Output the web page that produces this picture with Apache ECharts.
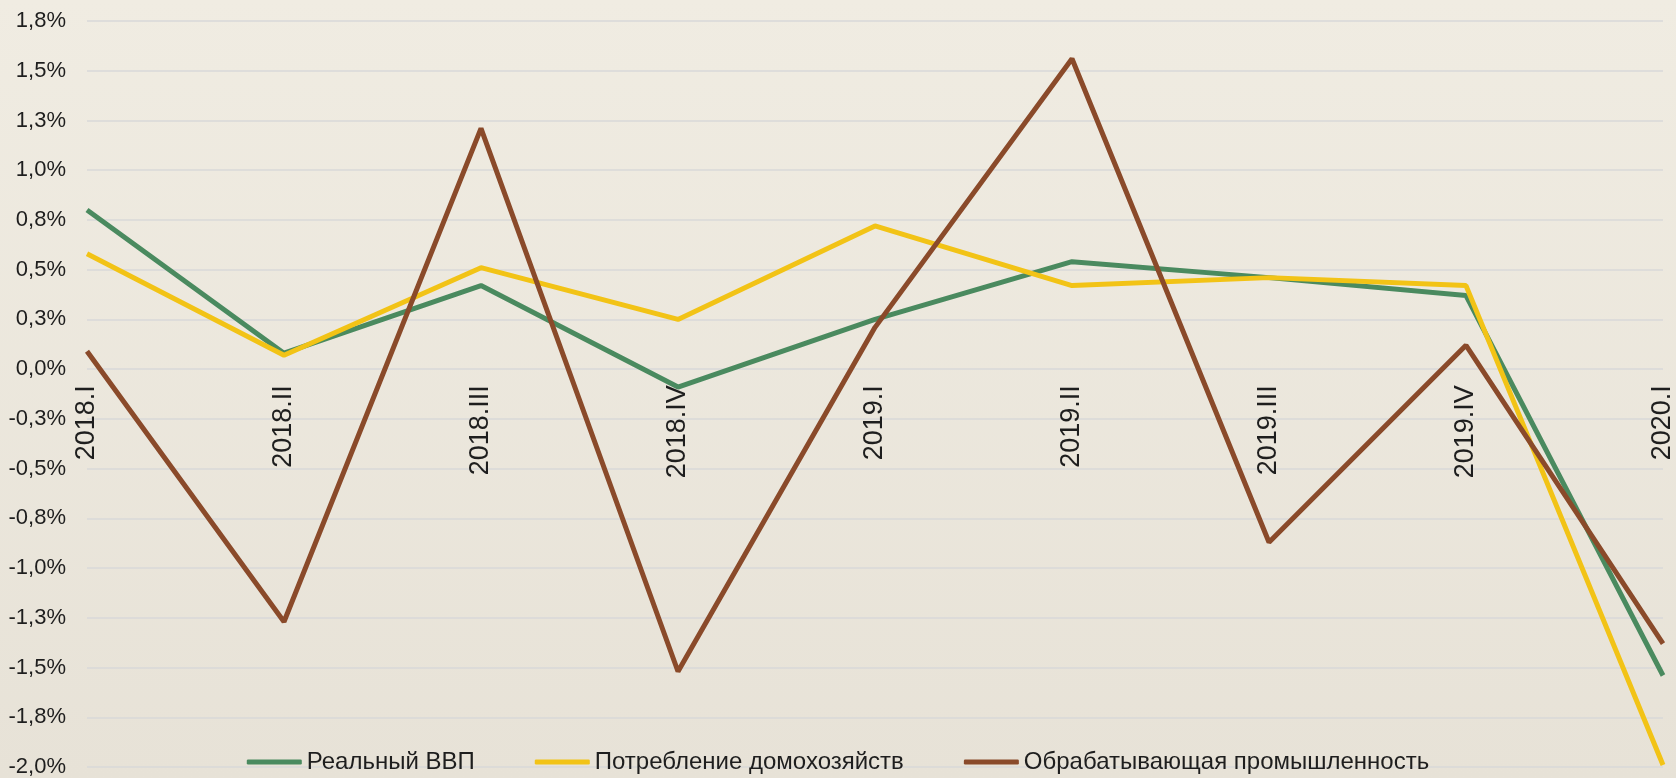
<!DOCTYPE html>
<html>
<head>
<meta charset="utf-8">
<script src="https://cdn.jsdelivr.net/npm/echarts@6/dist/echarts.min.js"></script>
<style>
html,body{margin:0;padding:0;}
#chart{width:1676px;height:778px;}
</style>
</head>
<body>
<div id="chart"></div>
<script>
const categories = ['2018.I','2018.II','2018.III','2018.IV','2019.I','2019.II','2019.III','2019.IV','2020.I'];
const seriesNames = ['Реальный ВВП','Потребление домохозяйств','Обрабатывающая промышленность'];
const realGdp = [0.80, 0.08, 0.42, -0.09, 0.25, 0.54, 0.46, 0.37, -1.54];
const consumption = [0.58, 0.07, 0.51, 0.25, 0.72, 0.42, 0.46, 0.42, -1.99];
const manufacturing = [0.09, -1.27, 1.21, -1.52, 0.21, 1.56, -0.87, 0.12, -1.38];
const yMin = -2, yMax = 1.75, yStep = 0.25;

const colors = ['#4a8a5f', '#f2c316', '#8a4a2a'];
const font = '"Liberation Sans", Arial, sans-serif';

const chart = echarts.init(document.getElementById('chart'));
chart.setOption({
  backgroundColor: {
    type: 'linear', x: 0, y: 0, x2: 0, y2: 1,
    colorStops: [{offset: 0, color: '#f0ece2'}, {offset: 1, color: '#e7e2d7'}]
  },
  animation: false,
  color: colors,
  textStyle: {fontFamily: font},
  grid: {left: 87, right: 13, top: 21, bottom: 11, containLabel: false, outerBoundsMode: 'none'},
  legend: {
    top: 745,
    left: 'center',
    icon: 'roundRect',
    itemWidth: 55,
    itemHeight: 5,
    itemGap: 60,
    textStyle: {fontSize: 24, color: '#1e1e1e', fontFamily: font},
    data: seriesNames
  },
  xAxis: {
    type: 'category',
    data: categories,
    boundaryGap: false,
    axisLine: {show: false, onZero: false},
    axisTick: {show: false},
    axisLabel: {rotate: 90, fontSize: 27, color: '#1e1e1e', margin: 16, fontFamily: font, interval: 0, hideOverlap: false}
  },
  yAxis: {
    type: 'value',
    min: yMin, max: yMax, interval: yStep,
    axisLine: {show: false},
    axisTick: {show: false},
    splitLine: {lineStyle: {color: '#d9d9d9', width: 1.5}},
    axisLabel: {
      fontSize: 22, color: '#1e1e1e', margin: 21, fontFamily: font,
      formatter: v => v.toFixed(1).replace('.', ',') + '%'
    }
  },
  series: [
    {name: seriesNames[0], type: 'line', data: realGdp, symbol: 'none', lineStyle: {width: 5, color: colors[0]}},
    {name: seriesNames[1], type: 'line', data: consumption, symbol: 'none', lineStyle: {width: 5, color: colors[1]}},
    {name: seriesNames[2], type: 'line', data: manufacturing, symbol: 'none', lineStyle: {width: 5, color: colors[2]}}
  ]
});
// place the category axis on the zero line of the value axis
const zeroY = chart.convertToPixel({yAxisIndex: 0}, 0);
const bottomY = chart.convertToPixel({yAxisIndex: 0}, yMin);
chart.setOption({xAxis: {offset: -(bottomY - zeroY)}});
</script>
</body>
</html>
